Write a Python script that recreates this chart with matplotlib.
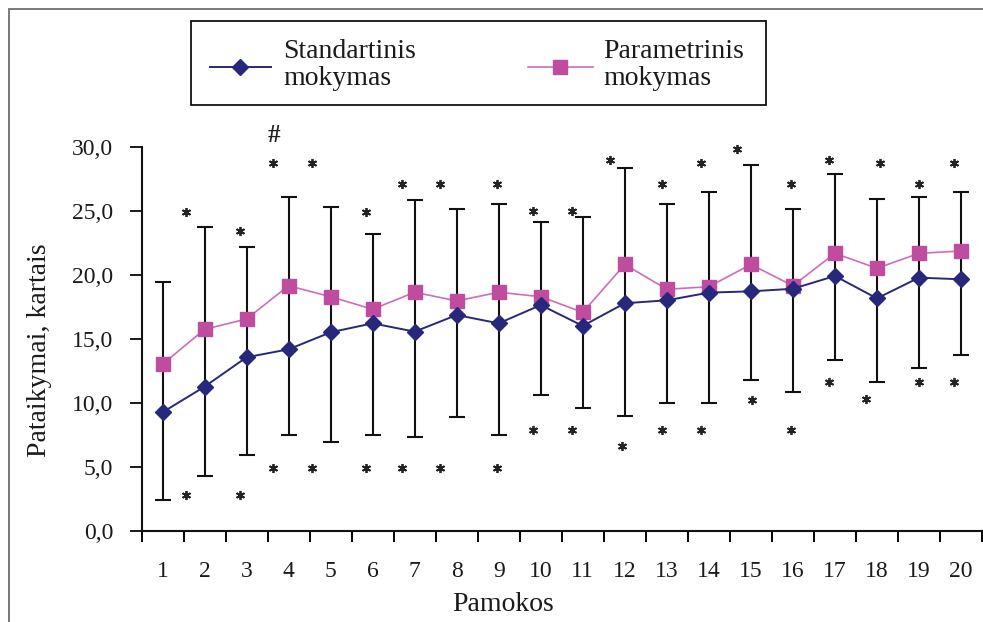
import matplotlib
matplotlib.use("Agg")
import matplotlib.pyplot as plt
from matplotlib.patches import Rectangle
from matplotlib.lines import Line2D
import numpy as np

# ---------------- data ----------------
categories = list(range(1, 21))
tick_labels = [str(c) for c in categories]

standartinis = [9.25, 11.25, 13.55, 14.17, 15.5, 16.2, 15.55, 16.85, 16.2, 17.63,
                16.0, 17.77, 18.0, 18.6, 18.7, 18.9, 19.9, 18.15, 19.77, 19.64]
parametrinis = [13.0, 15.73, 16.54, 19.14, 18.28, 17.3, 18.63, 17.95, 18.63, 18.28,
                17.06, 20.8, 18.86, 19.06, 20.8, 19.14, 21.67, 20.5, 21.67, 21.85]
# whisker ends (upper: Parametrinis + SD, lower: Standartinis - SD)
bar_upper = [19.4, 23.7, 22.2, 26.1, 25.3, 23.2, 25.8, 25.1, 25.5, 24.1,
             24.5, 28.3, 25.5, 26.5, 28.6, 25.1, 27.9, 25.9, 26.1, 26.5]
bar_lower = [2.4, 4.3, 5.9, 7.5, 6.9, 7.5, 7.3, 8.9, 7.5, 10.6,
             9.6, 9.0, 10.0, 10.0, 11.8, 10.8, 13.3, 11.6, 12.7, 13.7]

# significance asterisks (data coordinates)
star_up_x = [1.55, 2.84, 3.64, 4.55, 5.85, 6.71, 7.61, 8.96, 9.82, 10.75,
             11.65, 12.89, 13.81, 14.67, 15.95, 16.85, 18.08, 19.01, 19.84]
star_up_y = [24.9, 23.4, 28.7, 28.7, 24.9, 27.1, 27.1, 27.1, 25.0, 25.0,
             29.0, 27.1, 28.7, 29.8, 27.1, 29.0, 28.7, 27.1, 28.7]
star_lo_x = [1.55, 2.84, 3.64, 4.55, 5.85, 6.71, 7.61, 8.96, 9.82, 10.75,
             11.93, 12.89, 13.81, 15.03, 15.95, 16.85, 17.73, 19.01, 19.84]
star_lo_y = [2.8, 2.8, 4.9, 4.9, 4.9, 4.9, 4.9, 4.9, 7.9, 7.9,
             6.6, 7.9, 7.9, 10.2, 7.9, 11.6, 10.3, 11.6, 11.6]
hash_x, hash_y = 3.64, 30.9

y_ticks = [0, 5, 10, 15, 20, 25, 30]
y_tick_labels = ["0,0", "5,0", "10,0", "15,0", "20,0", "25,0", "30,0"]

series_names = ["Standartinis\nmokymas", "Parametrinis\nmokymas"]
xlabel = "Pamokos"
ylabel = "Pataikymai, kartais"

# ---------------- style ----------------
W, H = 983, 622
DPI = 100
plt.rcParams["font.family"] = ["Liberation Serif", "DejaVu Serif"]
BLUE = "#27287C"
PINK_M = "#BF4C9E"
PINK_L = "#CF6CBC"
TXT = "#1a1a1a"

fig = plt.figure(figsize=(W / DPI, H / DPI), dpi=DPI)

def fx(px):
    return px / W

def fy(py):
    return 1 - py / H

# outer frame (cut by the image on right/bottom)
fig.add_artist(Rectangle((fx(9), fy(660)), fx(1010) - fx(9), fy(9) - fy(660),
                         transform=fig.transFigure, fill=False,
                         edgecolor="#6e6e6e", linewidth=1.3))

ax_left, ax_right, ax_top, ax_bot = 141.5, 982, 146.7, 530.7
ax = fig.add_axes([fx(ax_left), fy(ax_bot), fx(ax_right) - fx(ax_left),
                   fy(ax_top) - fy(ax_bot)])
ax.set_xlim(0.5, 20.5)
ax.set_ylim(0, 30)
for s in ("top", "right"):
    ax.spines[s].set_visible(False)
for s in ("left", "bottom"):
    ax.spines[s].set_linewidth(1.5)
    ax.spines[s].set_color("#111111")

x = np.array(categories, dtype=float)
std = np.array(standartinis)
par = np.array(parametrinis)
up = np.array(bar_upper)
lo = np.array(bar_lower)

ax.errorbar(x, std, yerr=[std - lo, up - std], fmt="none", ecolor="#111111",
            elinewidth=1.5, capsize=6, capthick=1.5, zorder=2)
ax.plot(x, std, color=BLUE, lw=1.4, marker="D", ms=8.5, mfc=BLUE, mec=BLUE, zorder=4)
ax.plot(x, par, color=PINK_L, lw=1.2, marker="s", ms=9.5, mfc=PINK_M, mec=PINK_M, zorder=3)

ax.plot(star_up_x, star_up_y, ls="none", marker=(6, 2, 0), ms=6.5, mew=1.3,
        color="#222222", clip_on=False, zorder=5)
ax.plot(star_lo_x, star_lo_y, ls="none", marker=(6, 2, 0), ms=6.5, mew=1.3,
        color="#222222", clip_on=False, zorder=5)
ax.text(hash_x, hash_y, "#", ha="center", va="center", fontsize=18,
        fontweight="bold", color="#222222", clip_on=False)

# y axis
ax.set_yticks(y_ticks)
ax.set_yticklabels(y_tick_labels)
ax.tick_params(axis="y", direction="out", length=8.8, width=1.4, pad=11.5,
               labelsize=17, colors=TXT)
# x axis: tick marks between categories, labels on categories
ax.set_xticks(np.arange(0.5, 20.6, 1.0))
ax.set_xticklabels([])
ax.set_xticks(categories, minor=True)
ax.set_xticklabels(tick_labels, minor=True)
ax.tick_params(axis="x", which="major", direction="out", length=8, width=1.4)
ax.tick_params(axis="x", which="minor", length=0, pad=22, labelsize=17, colors=TXT)

# axis titles
fig.text(fx(503), fy(611), xlabel, ha="center", va="baseline", fontsize=20, color=TXT)
fig.text(fx(40), fy(350), ylabel, ha="center", va="center", rotation=90,
         fontsize=20, color=TXT)

# legend (drawn manually)
fig.add_artist(Rectangle((fx(191), fy(105)), fx(766) - fx(191), fy(21) - fy(105),
                         transform=fig.transFigure, fill=False,
                         edgecolor="#111111", linewidth=1.3))
fig.add_artist(Line2D([fx(210), fx(271)], [fy(67), fy(67)], transform=fig.transFigure,
                      color=BLUE, lw=1.4))
fig.add_artist(Line2D([fx(240)], [fy(67)], transform=fig.transFigure, color=BLUE,
                      marker="D", ms=8.5, ls="none"))
fig.add_artist(Line2D([fx(528), fx(593)], [fy(67), fy(67)], transform=fig.transFigure,
                      color=PINK_L, lw=1.2))
fig.add_artist(Line2D([fx(560)], [fy(67)], transform=fig.transFigure, color=PINK_M,
                      marker="s", ms=9.5, ls="none"))
for name, px in zip(series_names, (283, 603)):
    l1, l2 = name.split("\n")
    fig.text(fx(px), fy(58), l1, ha="left", va="baseline", fontsize=20, color=TXT)
    fig.text(fx(px), fy(85), l2, ha="left", va="baseline", fontsize=20, color=TXT)

fig.savefig("out.png", dpi=DPI)
